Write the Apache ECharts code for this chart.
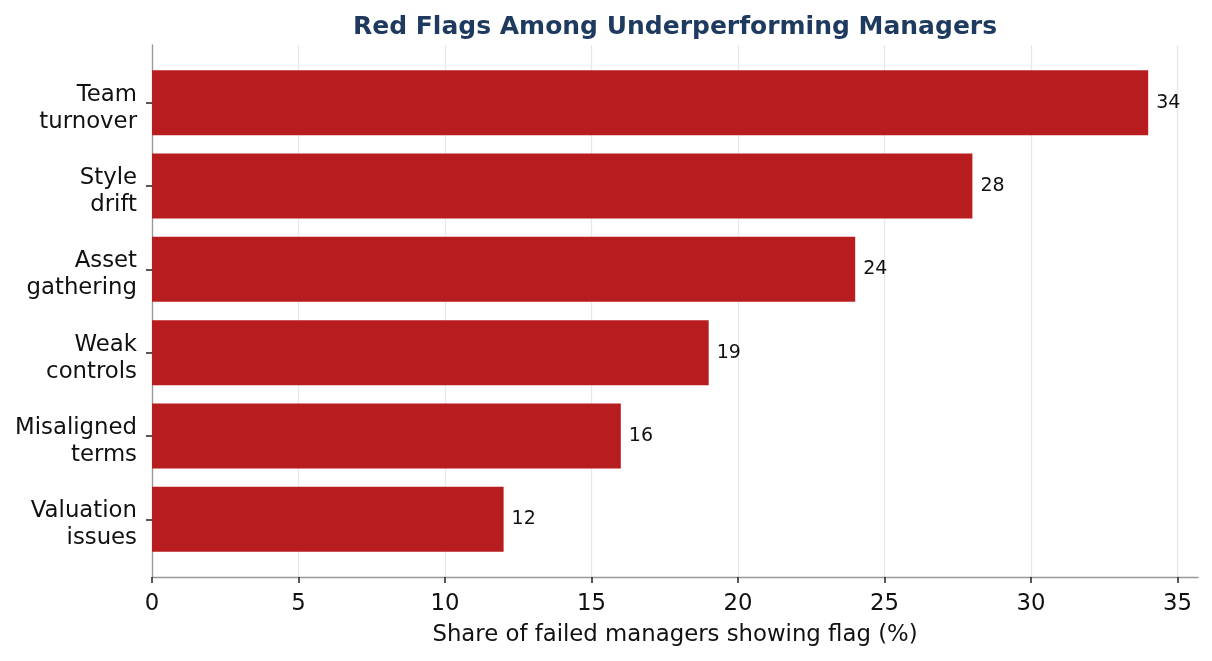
<!DOCTYPE html>
<html>
<head>
<meta charset="utf-8">
<title>Red Flags Among Underperforming Managers</title>
<script src="https://cdn.jsdelivr.net/npm/echarts@6/dist/echarts.min.js"></script>
<style>
  html, body { margin: 0; padding: 0; background: #fff; }
  #chart { width: 1212px; height: 661px; }
</style>
</head>
<body>
<div id="chart"></div>
<script>
const categories = ['Team\nturnover', 'Style\ndrift', 'Asset\ngathering', 'Weak\ncontrols', 'Misaligned\nterms', 'Valuation\nissues']
const values = [34, 28, 24, 19, 16, 12]
const xTicks = [0, 5, 10, 15, 20, 25, 30, 35]
const xMax = 35.7

const font = 'DejaVu Sans'
const barColor = '#b71d1f'
const spineColor = '#999999'

const chart = echarts.init(document.querySelector('#chart'))

chart.setOption({
  animation: false,
  textStyle: { fontFamily: font },
  title: {
    text: 'Red Flags Among Underperforming Managers',
    left: 670,
    textAlign: 'center',
    top: 10,
    textStyle: { fontFamily: font, fontSize: 25, fontWeight: 'bold', color: '#1f3a5f' }
  },
  // grid 0: frame, gridlines, x ticks; grid 1: bars and y ticks; grid 2: y labels (nudged down a little)
  grid: [
    { left: 152, top: 45, width: 1046, height: 532 },
    { left: 152, top: 61, width: 1046, height: 500 },
    { left: 152, top: 66.5, width: 1046, height: 500 }
  ],
  xAxis: [
    {
      gridIndex: 0,
      type: 'value',
      min: 0,
      max: xMax,
      axisLine: { show: true, lineStyle: { color: spineColor, width: 1.3 } },
      axisTick: { show: true, customValues: xTicks, length: 6, lineStyle: { color: '#222', width: 1.5 } },
      axisLabel: { customValues: xTicks, fontSize: 22.8, color: '#111', margin: 16, fontFamily: font },
      splitLine: { show: true, lineStyle: { color: '#e4e8ee', width: 1.3 } },
      name: 'Share of failed managers showing flag (%)',
      nameLocation: 'middle',
      nameGap: 47,
      nameTextStyle: { fontSize: 22.8, color: '#111', fontFamily: font }
    },
    { gridIndex: 1, type: 'value', min: 0, max: xMax, show: false },
    { gridIndex: 2, type: 'value', min: 0, max: xMax, show: false }
  ],
  yAxis: [
    {
      gridIndex: 0,
      type: 'value',
      min: 0,
      max: 1,
      axisLine: { show: true, lineStyle: { color: spineColor, width: 1.3 } },
      axisTick: { show: false },
      axisLabel: { show: false },
      splitLine: { show: false }
    },
    {
      gridIndex: 1,
      type: 'category',
      inverse: true,
      data: categories,
      axisLine: { show: false },
      axisTick: { show: true, alignWithLabel: true, length: 6, lineStyle: { color: '#222', width: 1.5 } },
      axisLabel: { show: false },
      splitLine: { show: false }
    },
    {
      gridIndex: 2,
      type: 'category',
      inverse: true,
      data: categories,
      axisLine: { show: false },
      axisTick: { show: false },
      axisLabel: {
        fontSize: 22.8, color: '#111', margin: 15, lineHeight: 27,
        fontFamily: font, align: 'right'
      },
      splitLine: { show: false }
    }
  ],
  series: [
    {
      type: 'bar',
      xAxisIndex: 1,
      yAxisIndex: 1,
      data: values,
      barWidth: 65,
      itemStyle: { color: barColor },
      label: {
        show: true, position: 'right', distance: 8, fontSize: 19, color: '#111',
        fontFamily: font, padding: [3, 0, 0, 0]
      }
    }
  ]
})
</script>
</body>
</html>
